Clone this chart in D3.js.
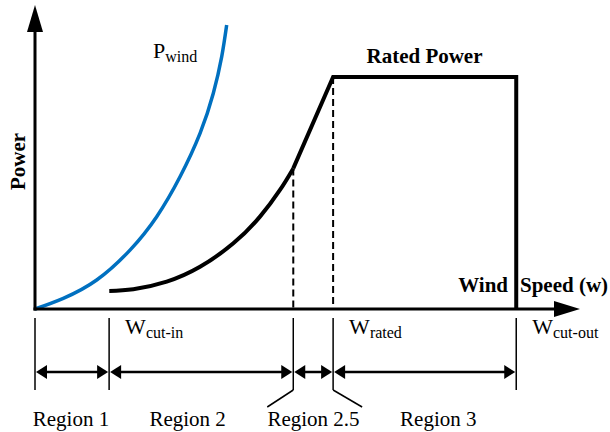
<!DOCTYPE html>
<html>
<head>
<meta charset="utf-8">
<script src="https://cdn.jsdelivr.net/npm/d3@7"></script>
<style>
  html, body { margin: 0; padding: 0; background: #fff; }
  svg { display: block; }
  text { font-family: "Liberation Serif", "Times New Roman", serif; fill: #000; }
</style>
</head>
<body>
<svg id="chart" width="610" height="432"></svg>
<script>
// ---- data (arbitrary wind-speed units 0..100, power normalised to rated = 1) ----
const windW = [0, 5.19, 11.32, 17.43, 22.33, 26.61, 30.28, 32.72, 34.26, 35.17];
const windP = [0, 0.046, 0.125, 0.254, 0.398, 0.570, 0.757, 0.930, 1.088, 1.224];
const turbW = [13.63, 18.04, 24.17, 30.28, 36.39, 41.28, 44.95, 47.39];
const turbP = [0.078, 0.085, 0.118, 0.182, 0.283, 0.398, 0.513, 0.606];
const ratedP = 1.0;
const wCutIn = 13.6, wRegion25 = 47.39, wRated = 54.7, wCutOut = 88.3;
const boundaries = [0, wCutIn, wRegion25, wRated, wCutOut];
const regionLabels = ["Region 1", "Region 2", "Region 2.5", "Region 3"];
const speedLabels = [
  { main: "W", sub: "cut-in", w: wCutIn },
  { main: "W", sub: "rated", w: wRated },
  { main: "W", sub: "cut-out", w: wCutOut }
];

// ---- scales ----
const svg = d3.select("#chart");
const x = d3.scaleLinear().domain([0, 100]).range([35, 580]);
const y = d3.scaleLinear().domain([0, 1]).range([309, 77]);
const yTop = 1.31;

function arrowHead(g, tipX, tipY, dir, len, half) {
  let pts;
  if (dir === "up") pts = [[tipX, tipY], [tipX - half, tipY + len], [tipX + half, tipY + len]];
  else if (dir === "right") pts = [[tipX, tipY], [tipX - len, tipY - half], [tipX - len, tipY + half]];
  else pts = [[tipX, tipY], [tipX + len, tipY - half], [tipX + len, tipY + half]];
  g.append("polygon").attr("points", pts.map(p => p.join(",")).join(" ")).attr("fill", "#000");
}

// ---- dashed guide lines ----
svg.append("line")
  .attr("x1", x(wRegion25)).attr("x2", x(wRegion25))
  .attr("y1", y(turbP[turbP.length - 1])).attr("y2", y(0))
  .attr("stroke", "#000").attr("stroke-width", 2).attr("stroke-dasharray", "7,4");
svg.append("line")
  .attr("x1", x(wRated)).attr("x2", x(wRated))
  .attr("y1", y(ratedP)).attr("y2", y(0))
  .attr("stroke", "#000").attr("stroke-width", 2).attr("stroke-dasharray", "7,4");

// ---- P_wind curve ----
const windData = windW.map((w, i) => [w, windP[i]]);
svg.append("path")
  .attr("d", d3.line().x(d => x(d[0])).y(d => y(d[1])).curve(d3.curveNatural)(windData))
  .attr("fill", "none").attr("stroke", "#0070C0").attr("stroke-width", 3.5);

// ---- turbine power curve ----
const turbData = turbW.map((w, i) => [w, turbP[i]]);
svg.append("path")
  .attr("d", d3.line().x(d => x(d[0])).y(d => y(d[1])).curve(d3.curveNatural)(turbData))
  .attr("fill", "none").attr("stroke", "#000").attr("stroke-width", 4);
const linData = [[wRegion25, turbP[turbP.length - 1]], [wRated, ratedP], [wCutOut, ratedP], [wCutOut, 0]];
svg.append("path")
  .attr("d", d3.line().x(d => x(d[0])).y(d => y(d[1]))(linData))
  .attr("fill", "none").attr("stroke", "#000").attr("stroke-width", 4).attr("stroke-linejoin", "miter");

// ---- axes ----
const axes = svg.append("g");
axes.append("line").attr("x1", x(0)).attr("x2", x(0)).attr("y1", y(0) + 1.5).attr("y2", y(yTop) + 20)
  .attr("stroke", "#000").attr("stroke-width", 3);
arrowHead(axes, x(0), y(yTop), "up", 27, 8);
axes.append("line").attr("x1", x(0) - 1.5).attr("x2", x(100) - 20).attr("y1", y(0)).attr("y2", y(0))
  .attr("stroke", "#000").attr("stroke-width", 3);
arrowHead(axes, x(100), y(0), "right", 26, 8);

// ---- region markers ----
const reg = svg.append("g");
const tickTop = 318, tickBot = 390, arrowY = 372;
boundaries.forEach(b => {
  reg.append("line").attr("x1", x(b)).attr("x2", x(b)).attr("y1", tickTop).attr("y2", tickBot)
    .attr("stroke", "#000").attr("stroke-width", 1.5);
});
reg.append("line").attr("x1", x(wRegion25)).attr("y1", tickBot).attr("x2", x(wRegion25) - 26).attr("y2", 407)
  .attr("stroke", "#000").attr("stroke-width", 1.5);
reg.append("line").attr("x1", x(wRated)).attr("y1", tickBot).attr("x2", x(wRated) + 29).attr("y2", 407)
  .attr("stroke", "#000").attr("stroke-width", 1.5);
for (let i = 0; i < boundaries.length - 1; i++) {
  const a = x(boundaries[i]), b = x(boundaries[i + 1]);
  reg.append("line").attr("x1", a + 6).attr("x2", b - 6).attr("y1", arrowY).attr("y2", arrowY)
    .attr("stroke", "#000").attr("stroke-width", 2.5);
  arrowHead(reg, a + 1, arrowY, "left", 11, 7);
  arrowHead(reg, b - 1, arrowY, "right", 11, 7);
}
const regionCenters = [x(6.6), x(28.0), x(51.1), x(74.0)];
regionLabels.forEach((t, i) => {
  reg.append("text").attr("x", regionCenters[i]).attr("y", 426)
    .attr("text-anchor", "middle").attr("font-size", 21).text(t);
});

// ---- speed labels ----
speedLabels.forEach(s => {
  const t = svg.append("text").attr("x", x(s.w) + 16).attr("y", 334).attr("font-size", 22);
  t.append("tspan").text(s.main);
  t.append("tspan").attr("font-size", 16).attr("dy", 4).text(s.sub);
});

// ---- P_wind label ----
const pw = svg.append("text").attr("x", 153).attr("y", 58).attr("font-size", 22);
pw.append("tspan").text("P");
pw.append("tspan").attr("font-size", 16).attr("dy", 4).text("wind");

// ---- titles ----
svg.append("text").attr("x", 424.5).attr("y", 63).attr("text-anchor", "middle")
  .attr("font-size", 21).attr("font-weight", "bold").text("Rated Power");
svg.append("text").attr("x", 508).attr("y", 292).attr("text-anchor", "end")
  .attr("font-size", 21).attr("font-weight", "bold").text("Wind");
svg.append("text").attr("x", 520).attr("y", 292)
  .attr("font-size", 21).attr("font-weight", "bold").text("Speed (w)");
svg.append("text").attr("transform", "translate(25,161.5) rotate(-90)").attr("text-anchor", "middle")
  .attr("font-size", 21).attr("font-weight", "bold").text("Power");
</script>
</body>
</html>
